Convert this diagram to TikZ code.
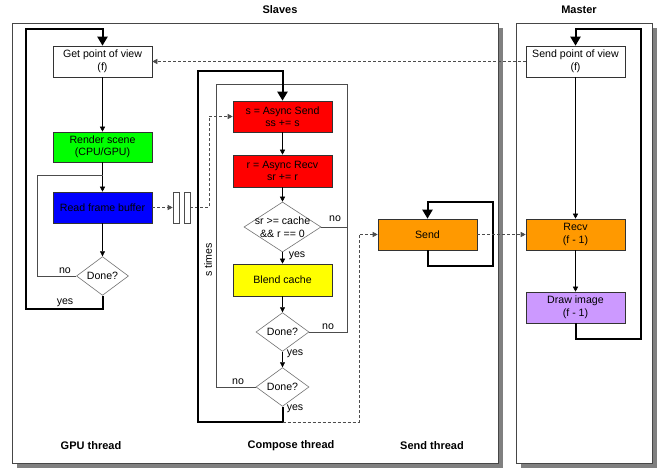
\documentclass[tikz,border=0pt]{standalone}
\usepackage{fontspec}
\setmainfont{Liberation Sans}
\usetikzlibrary{arrows.meta,shapes.geometric}
\definecolor{cgreen}{RGB}{0,255,0}
\definecolor{cblue}{RGB}{0,0,255}
\definecolor{cred}{RGB}{255,0,0}
\definecolor{cyellow}{RGB}{255,255,0}
\definecolor{corange}{RGB}{255,153,0}
\definecolor{cpurple}{RGB}{204,153,255}
\definecolor{panelline}{RGB}{70,70,70}
\definecolor{shadowc}{RGB}{128,128,128}
\begin{document}
\begin{tikzpicture}[x=1pt,y=-1pt,
  font=\fontsize{10.6}{12.5}\selectfont,
  box/.style={draw=black!80, line width=0.6pt, minimum width=99pt, minimum height=31pt, inner sep=0pt, align=center},
  dia/.style={diamond, draw=black!55, line width=0.6pt, inner sep=0pt},
  flow/.style={draw=black, line width=0.6pt, -{Triangle[length=5pt,width=5pt]}},
  bigloop/.style={draw=black, line width=2pt, -{Triangle[length=9pt,width=10pt]}},
  thinloop/.style={draw=black!70, line width=0.6pt},
  dashline/.style={draw=black!70, line width=0.6pt, dash pattern=on 3pt off 2pt},
  dasharrow/.style={dashline, -{Triangle[length=5pt,width=5pt]}},
  lbl/.style={inner sep=0pt},
  title/.style={inner sep=0pt, font=\fontsize{11}{13}\selectfont\bfseries},
  panel/.style={fill=white, draw=panelline, line width=0.6pt},
  shadow/.style={fill=shadowc}
]
\useasboundingbox (0,0) rectangle (670,470);
% panels
\fill[shadow] (17,28) rectangle (503,468);
\draw[panel] (12,23) rectangle (498,463);
\fill[shadow] (521,28) rectangle (657,468);
\draw[panel] (516,23) rectangle (652,463);
\node[title] (tslaves) at (280,10) {Slaves};
\node[title] (tmaster) at (579,10) {Master};
\node[title] (tgpu) at (91,446) {GPU thread};
\node[title] (tcomp) at (291,446) {Compose thread};
\node[title] (tsend) at (432,446) {Send thread};

% GPU thread
\node[box, fill=white] (gpv) at (102.5,61.5) {Get point of view\\(f)};
\node[box, fill=cgreen, minimum height=30pt] (render) at (102.5,147) {Render scene\\(CPU/GPU)};
\node[box, fill=cblue] (read) at (102.5,207.5) {Read frame buffer};
\node[dia, fill=white, minimum width=52pt, minimum height=34pt] (done0) at (102.5,276) {Done?};
\node[draw=black!70, fill=white, line width=0.6pt, minimum width=6pt, minimum height=31pt, inner sep=0pt] (buf1) at (176,207.5) {};
\node[draw=black!70, fill=white, line width=0.6pt, minimum width=6pt, minimum height=31pt, inner sep=0pt] (buf2) at (187,207.5) {};

% Compose thread
\node[box, fill=cred] (asend) at (282.5,116.5) {s = Async Send\\ss += s};
\node[box, fill=cred, minimum height=32pt] (arecv) at (282.5,171) {r = Async Recv\\sr += r};
\node[dia, fill=white, minimum width=77pt, minimum height=50pt,
  label={[name=condtxt, align=center, inner sep=0pt]center:sr >= cache\\\&\& r == 0}] (cond) at (282.5,227) {};
\node[box, fill=cyellow, minimum height=32pt] (blend) at (282.5,280) {Blend cache};
\node[dia, fill=white, minimum width=53pt, minimum height=34pt] (done1) at (282.5,332) {Done?};
\node[dia, fill=white, minimum width=53pt, minimum height=34pt] (done2) at (282.5,387) {Done?};

% GPU connectors
\coordinate (nojoin0) at (102.5,175);
\draw[flow] (gpv) -- (render);
\draw[flow] (render) -- (read);
\draw[flow] (read) -- (done0);
\draw[thinloop] (done0.west) -- (37,276) -- (37,175) -- (nojoin0);
\draw[bigloop] (done0.south) -- (102.5,309) -- (26,309) -- (26,29) -- (102.5,29) -- (gpv.north);
\node[lbl] (no0) at (65,271) {no};
\node[lbl] (yes0) at (65,303) {yes};
\draw[dasharrow] (read.east) -- (buf1.west);
\draw[dasharrow] (buf2.east) -- (209,207.5) -- (209,116.5) -- (asend.west);

% Compose connectors
\coordinate (topjoin) at (282.5,84);
\draw[flow] (asend) -- (arecv);
\draw[flow] (arecv) -- (cond);
\draw[flow] (cond) -- (blend);
\draw[flow] (blend) -- (done1);
\draw[flow] (done1) -- (done2);
\draw[thinloop] (cond.east) -- (347,227);
\draw[thinloop] (done1.east) -- (347,332) -- (347,84) -- (topjoin);
\draw[thinloop] (done2.west) -- (216,387) -- (216,84) -- (topjoin);
\draw[bigloop] (done2.south) -- (282.5,422) -- (198,422) -- (198,71) -- (282.5,71) -- (asend.north);
\node[lbl] (nocond) at (335,219) {no};
\node[lbl] (yescond) at (297,256) {yes};
\node[lbl] (no1) at (328,327) {no};
\node[lbl] (yes1) at (295,354) {yes};
\node[lbl] (no2) at (238,382) {no};
\node[lbl] (yes2) at (295,409) {yes};
\node[lbl, rotate=90] (stimes) at (208,260) {s times};

% Send thread
\node[box, fill=corange] (send) at (427.5,234.5) {Send};
\coordinate (dstart) at (282.5,422);
\draw[dasharrow] (dstart) -- (359,422) -- (359,234.5) -- (send.west);
\draw[bigloop] (send.south) -- (427.5,266) -- (493,266) -- (493,202) -- (427.5,202) -- (send.north);

% Master
\node[box, fill=white] (spv) at (575.5,61.5) {Send point of view\\(f)};
\node[box, fill=corange] (recv) at (575.5,234.5) {Recv\\(f - 1)};
\node[box, fill=cpurple] (drawimg) at (575.5,307.5) {Draw image\\(f - 1)};
\draw[flow] (spv) -- (recv);
\draw[flow] (recv) -- (drawimg);
\draw[bigloop] (drawimg.south) -- (575.5,339) -- (641,339) -- (641,29) -- (575.5,29) -- (spv.north);
\draw[dasharrow] (send.east) -- (recv.west);
\draw[dasharrow] (spv.west) -- (gpv.east);
\end{tikzpicture}
\end{document}
